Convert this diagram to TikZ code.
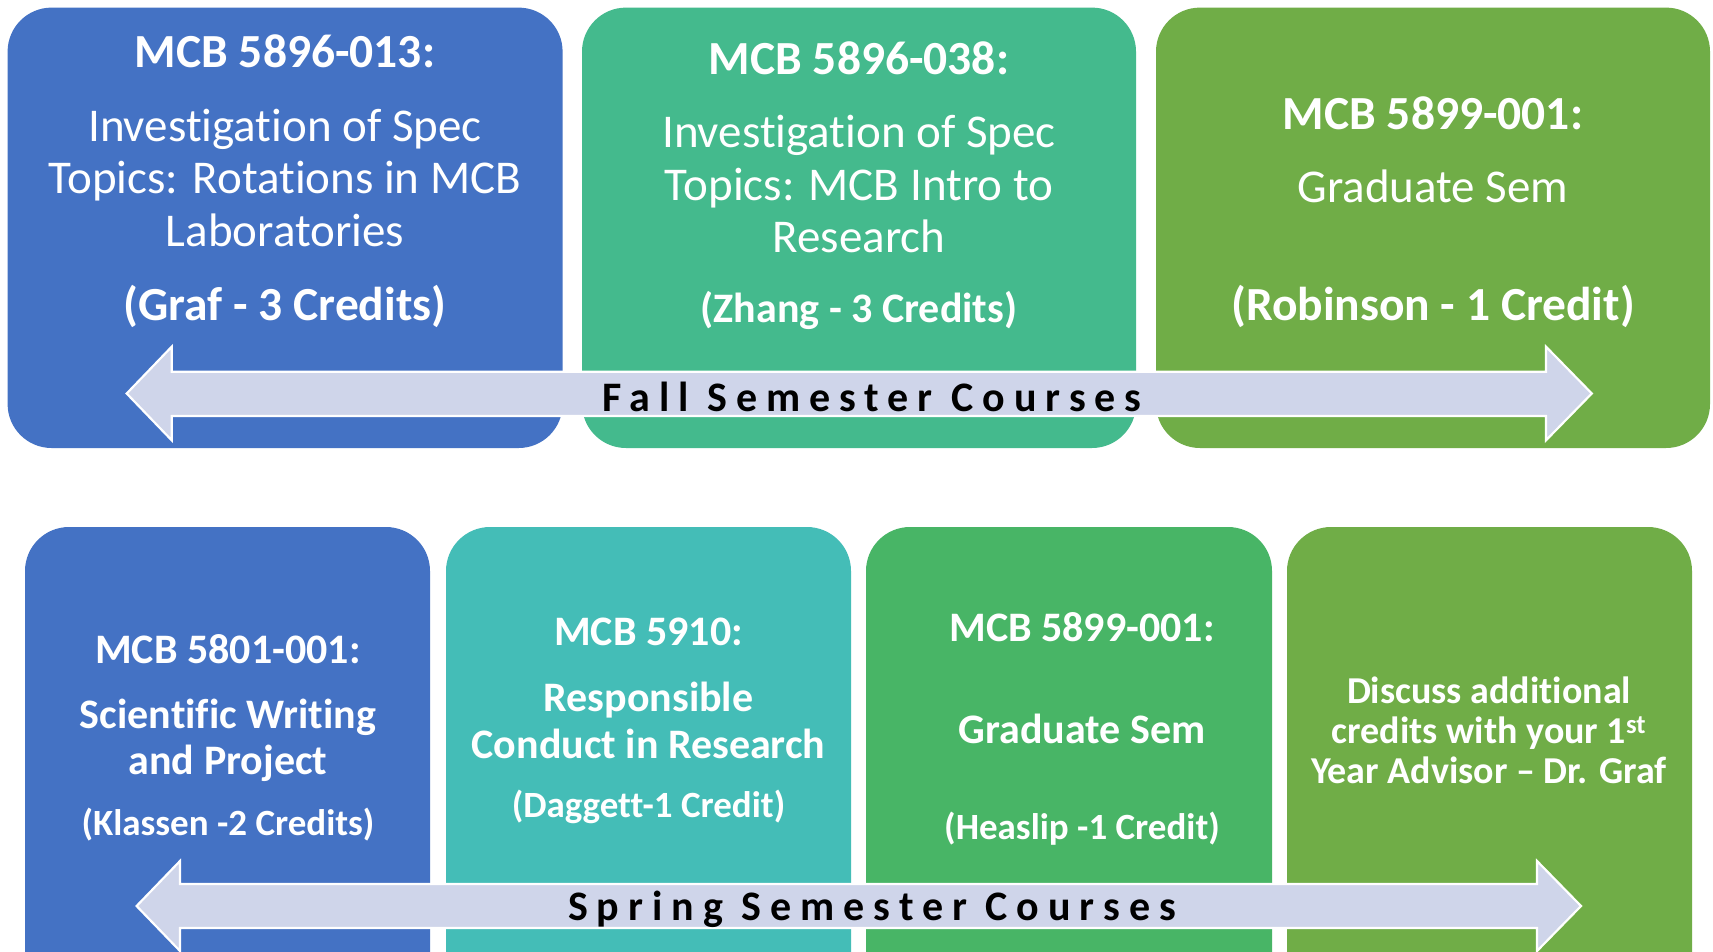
\documentclass[tikz,border=0pt]{standalone}
\usepackage{fontspec}
\setmainfont{Carlito}[Ligatures={NoCommon,NoRequired,NoContextual}]
\newfontfamily\spacedfont{Carlito}[LetterSpace=21.4,Ligatures={NoCommon,NoRequired,NoContextual}]
\definecolor{cblue}{HTML}{4472C4}
\definecolor{cgreen}{HTML}{44BA8D}
\definecolor{colive}{HTML}{70AD47}
\definecolor{cteal}{HTML}{44BDB7}
\definecolor{cgreenb}{HTML}{48B566}
\definecolor{arrowfill}{HTML}{CFD5EA}
\tikzset{
  box/.style={rounded corners=44pt},
  txt/.style={anchor=base, inner sep=0pt, text=white},
  tbig/.style={txt, font=\bfseries\fontsize{47.5}{52}\selectfont},
  treg/.style={txt, font=\fontsize{47}{52}\selectfont},
  tmid/.style={txt, font=\bfseries\fontsize{42}{47}\selectfont},
  tsm/.style={txt, font=\bfseries\fontsize{37}{42}\selectfont},
  tnote/.style={txt, font=\bfseries\fontsize{38}{40}\selectfont},
  semarrow/.style={fill=arrowfill, draw=white, line width=2.2pt, line join=miter},
  semtxt/.style={anchor=base, inner sep=0pt, text=black, font=\spacedfont\bfseries\fontsize{42}{44}\selectfont},
}
\begin{document}
\begin{tikzpicture}[x=1pt,y=-1pt]
\useasboundingbox (0,0) rectangle (1713,951);
\fill[white] (0,0) rectangle (1713,951);
\clip (0,0) rectangle (1713,951);
% top row boxes
\fill[cblue,box]  (7.6,7.6) rectangle (562.6,448);
\fill[cgreen,box] (582,7.6) rectangle (1136,448);
\fill[colive,box] (1156,7.6) rectangle (1710,448);
% bottom row boxes
\fill[cblue,box]   (25,527) rectangle (430,1010);
\fill[cteal,box]   (446,527) rectangle (851,1010);
\fill[cgreenb,box] (866,527) rectangle (1272,1010);
\fill[colive,box]  (1287,527) rectangle (1692,1010);
% top texts
\node[tbig] (a1) at (285,67) {MCB 5896-013:};
\node[treg] (a2) at (285,141.3) {Investigation of Spec};
\node[treg] (a3) at (285,193.8) {Topics: Rotations in MCB};
\node[treg] (a4) at (285,246.2) {Laboratories};
\node[tbig] (a5) at (285,320.5) {(Graf - 3 Credits)};
\node[tbig] (b1) at (859,74.6) {MCB 5896-038:};
\node[treg] (b2) at (859,147.9) {Investigation of Spec};
\node[treg] (b3) at (859,200.3) {Topics: MCB Intro to};
\node[treg] (b4) at (859,252.8) {Research};
\node[tmid] (b5) at (859,322.2) {(Zhang - 3 Credits)};
\node[tbig] (c1) at (1433,129.3) {MCB 5899-001:};
\node[treg] (c2) at (1433,202.5) {Graduate Sem};
\node[tbig] (c3) at (1433,320.5) {(Robinson - 1 Credit)};
% bottom texts
\node[tmid] (d1) at (228,663) {MCB 5801-001:};
\node[tmid] (d2) at (228,728.6) {Scientific Writing};
\node[tmid] (d3) at (228,774.5) {and Project};
\node[tsm]  (d4) at (228,835.2) {(Klassen -2 Credits)};
\node[tmid] (e1) at (648.5,645.6) {MCB 5910:};
\node[tmid] (e2) at (648.5,711) {Responsible};
\node[tmid] (e3) at (648.5,758) {Conduct in Research};
\node[tsm]  (e4) at (648.5,817.5) {(Daggett-1 Credit)};
\node[tmid] (f1) at (1082,641) {MCB 5899-001:};
\node[tmid] (f2) at (1082,743) {Graduate Sem};
\node[tsm]  (f3) at (1082,839.5) {(Heaslip -1 Credit)};
\node[tnote] (g1) at (1489,703) {Discuss additional};
\node[tnote] (g2) at (1489,743) {credits with your 1\textsuperscript{st}};
\node[tnote] (g3) at (1489,783) {Year Advisor -- Dr. Graf};
% fall arrow
\draw[semarrow] (126.7,393.5) -- (171.7,346.7) -- (171.7,371.7) -- (1546,371.7) -- (1546,346.7)
  -- (1591.8,393.5) -- (1546,440.3) -- (1546,416) -- (171.7,416) -- (171.7,440.3) -- cycle;
\node[semtxt] (fall) at (872,411) {Fall Semester Courses};
% spring arrow
\draw[semarrow] (136.6,906) -- (180,861) -- (180,884) -- (1537,884) -- (1537,861)
  -- (1581,906) -- (1537,951) -- (1537,928) -- (180,928) -- (180,951) -- cycle;
\node[semtxt] (spring) at (872,920) {Spring Semester Courses};
\end{tikzpicture}
\end{document}
